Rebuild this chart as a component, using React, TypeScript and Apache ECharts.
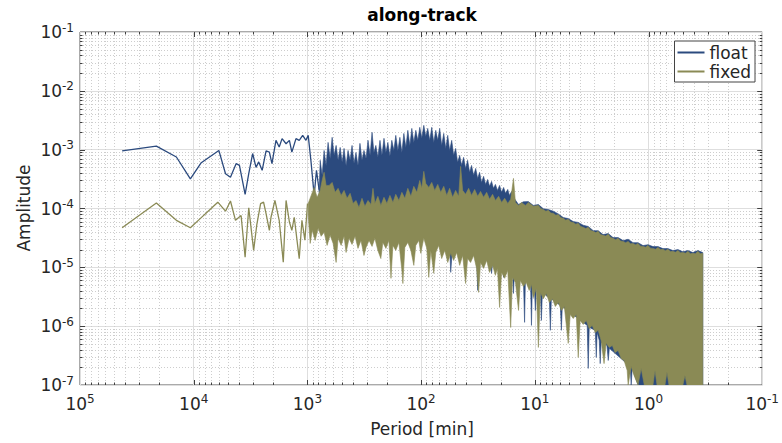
import React, { useEffect, useRef } from 'react';
import * as echarts from 'echarts';

const FLOAT_COLOR = '#2b4a7e';
const FIXED_COLOR = '#8a8a55';
const FONT = '"DejaVu Sans", "Liberation Sans", sans-serif';

// [period (min), amplitude] — sparse low-frequency part
const floatSparse: [number, number][] = [
  [42600, 9.5e-4], [21300, 1.15e-3], [14200, 7.5e-4], [10700, 3.2e-4], [8580, 6.0e-4], [6010, 9.7e-4],
  [5250, 3.9e-4], [4750, 3.4e-4], [4230, 5.8e-4], [3960, 5.4e-4], [3530, 1.74e-4], [3280, 3.9e-4],
  [3030, 8.6e-4], [2830, 5.0e-4], [2680, 6.2e-4], [2500, 4.45e-4], [2310, 9.5e-4], [2160, 9.1e-4],
  [2050, 5.8e-4], [1890, 1.44e-3], [1770, 1.11e-3], [1670, 1.54e-3], [1540, 1.26e-3], [1440, 1.44e-3],
  [1370, 9.1e-4], [1260, 1.54e-3], [1180, 1.44e-3], [1100, 1.75e-3], [1030, 1.44e-3], [984, 1.75e-3],
  [932, 6.6e-4], [872, 1.67e-4], [832, 4.45e-4], [788, 2.03e-4],
];

const fixedSparse: [number, number][] = [
  [42600, 4.7e-5], [21300, 1.24e-4], [14200, 6.3e-5], [10700, 4.7e-5], [8580, 7.0e-5], [7110, 9.8e-5],
  [6140, 1.28e-4], [5250, 9.0e-5], [4750, 1.34e-4], [4290, 6.3e-5], [3830, 7.6e-5], [3530, 1.49e-5],
  [3280, 1.03e-4], [2970, 1.94e-5], [2790, 5.2e-5], [2580, 1.21e-4], [2430, 1.28e-4], [2310, 8.2e-5],
  [2160, 4.25e-5], [2090, 7.1e-5], [1930, 1.37e-4], [1770, 6.3e-5], [1630, 1.22e-5], [1540, 1.37e-4],
  [1440, 5.9e-5], [1370, 4.25e-5], [1305, 7.1e-5], [1180, 1.4e-5], [1117, 6.3e-5], [1052, 2.9e-5],
  [998, 1.21e-4],
];

// dense high-frequency part: upper and lower edges of the band of spectral lines
const floatUpper: [number, number][] = [
  [788, 2.03e-4], [772, 6.6e-4], [742, 3.66e-4], [713, 9.7e-4], [685, 5.4e-4], [658, 1.33e-3], [631, 7.1e-4],
  [606, 1.62e-3], [582, 8.0e-4], [559, 1.18e-3], [537, 6.6e-4], [515, 1.09e-3], [495, 6.1e-4], [476, 1.05e-3],
  [457, 5.4e-4], [439, 9.7e-4], [421, 6.6e-4], [405, 1.18e-3], [389, 5.87e-4], [374, 8.97e-4], [359, 5.4e-4],
  [345, 1.28e-3], [331, 6.6e-4], [318, 9.7e-4], [305, 7.1e-4], [293, 1.44e-3], [281, 8.0e-4], [270, 1.97e-3],
  [260, 8.97e-4], [250, 1.18e-3], [240, 7.4e-4], [230, 1.44e-3], [221, 8.0e-4], [212, 1.56e-3], [204, 8.97e-4],
  [196, 1.33e-3], [188, 7.7e-4], [181, 1.44e-3], [173.5, 9.7e-4], [167, 1.75e-3], [160, 9.7e-4], [153.7, 1.62e-3],
  [147.6, 8.97e-4], [141.8, 1.89e-3], [136.2, 1.09e-3], [130.8, 2.13e-3], [125.6, 1.18e-3], [120.7, 2.3e-3],
  [115.9, 1.33e-3], [111.3, 2.13e-3], [106.9, 1.44e-3], [102.7, 2.4e-3], [98.6, 1.56e-3], [94.7, 2.59e-3],
  [91.0, 1.68e-3], [87.4, 2.3e-3], [83.9, 1.44e-3], [80.6, 2.4e-3], [77.4, 1.33e-3], [74.3, 2.13e-3],
  [71.4, 1.44e-3], [68.6, 2.3e-3], [65.9, 1.18e-3], [63.2, 1.89e-3], [60.7, 1.05e-3], [58.3, 1.75e-3],
  [56.1, 9.7e-4], [53.8, 1.44e-3], [51.7, 8.0e-4], [49.7, 1.05e-3], [47.7, 6.1e-4], [45.8, 8.0e-4],
  [44.0, 5.4e-4], [42.3, 7.4e-4], [40.6, 4.8e-4], [39.0, 6.6e-4], [37.4, 4.12e-4], [36.0, 5.4e-4],
  [34.5, 3.66e-4], [33.1, 4.8e-4], [31.8, 3.25e-4], [30.6, 4.12e-4], [29.4, 2.78e-4], [28.2, 3.52e-4],
  [27.1, 2.57e-4], [26.0, 3.12e-4], [25.0, 2.38e-4], [24.0, 2.89e-4], [23.1, 2.2e-4], [22.2, 2.57e-4],
  [21.3, 2.03e-4], [20.4, 2.47e-4], [19.6, 1.88e-4], [18.8, 2.28e-4], [18.1, 1.81e-4], [17.3, 2.11e-4],
  [16.7, 1.67e-4], [16.0, 1.95e-4], [15.4, 1.55e-4], [13.9, 1.17e-4], [12.6, 1.3e-4], [11.4, 1.31e-4],
  [10.3, 1.13e-4], [9.3, 1.17e-4], [8.41, 9.9e-5], [7.6, 9.6e-5], [6.87, 9.0e-5], [6.21, 8.1e-5],
  [5.61, 7.0e-5], [5.08, 6.75e-5], [4.59, 6.0e-5], [4.15, 5.8e-5], [3.75, 5.2e-5], [3.39, 4.95e-5],
  [3.06, 4.2e-5], [2.77, 4.2e-5], [2.51, 3.6e-5], [2.26, 3.75e-5], [2.05, 3.2e-5], [1.85, 3.2e-5],
  [1.67, 2.85e-5], [1.51, 3.0e-5], [1.37, 2.63e-5], [1.236, 2.63e-5], [1.117, 2.34e-5], [1.01, 2.43e-5],
  [0.913, 2.25e-5], [0.825, 2.25e-5], [0.746, 2.08e-5], [0.675, 2.08e-5], [0.61, 1.93e-5], [0.551, 2.0e-5],
  [0.498, 1.84e-5], [0.45, 1.93e-5], [0.407, 1.78e-5], [0.368, 1.93e-5], [0.333, 1.78e-5],
];

const floatLower: [number, number][] = [
  [788, 6.3e-5], [85.6, 5.8e-5], [56.1, 2.36e-5], [54.9, 8.2e-6], [52.8, 2.36e-5], [32.5, 1.59e-5],
  [31.8, 4.05e-6], [30.6, 1.59e-5], [24.5, 1.21e-5], [24.0, 7.9e-6], [23.5, 1.21e-5], [19.2, 1.08e-5],
  [18.8, 6.75e-6], [18.4, 1.04e-5], [15.7, 8.9e-6], [15.4, 3.6e-6], [15.1, 8.2e-6], [12.6, 6.5e-6],
  [12.3, 1.16e-6], [12.1, 6.0e-6], [10.9, 5.55e-6], [10.7, 1.03e-6], [10.5, 5.3e-6], [10.1, 4.9e-6],
  [9.89, 1.85e-6], [9.69, 4.6e-6], [8.93, 4.05e-6], [8.75, 1.25e-6], [8.58, 3.75e-6], [7.45, 3.05e-6],
  [7.3, 8.5e-7], [7.15, 2.93e-6], [5.96, 2.25e-6], [5.84, 8.5e-7], [5.73, 2.16e-6], [3.46, 1.03e-6],
  [3.39, 1.91e-7], [3.32, 9.5e-7], [2.94, 8.5e-7], [2.88, 2.94e-7], [2.83, 7.8e-7], [2.71, 5.7e-7],
  [2.66, 2.31e-7], [2.61, 5.3e-7], [2.32, 4.7e-7], [2.26, 2.61e-7], [2.21, 4.2e-7], [1.45, 2.06e-7],
  [1.42, 1e-7], [1.39, 1.91e-7], [1.236, 1e-7], [0.333, 1e-7],
];

const fixedUpper: [number, number][] = [
  [984, 1.22e-4], [926, 1.67e-4], [872, 2.28e-4], [821, 1.55e-4], [772, 2.03e-4], [742, 3.0e-4], [713, 4.12e-4],
  [685, 2.47e-4], [644, 2.47e-4], [606, 2.78e-4], [570, 1.88e-4], [537, 2.2e-4], [505, 1.67e-4], [476, 2.03e-4],
  [448, 1.49e-4], [421, 1.81e-4], [397, 1.22e-4], [374, 1.37e-4], [352, 1.04e-4], [331, 1.49e-4], [312, 1.09e-4],
  [293, 1.37e-4], [276, 1.17e-4], [265, 2.2e-4], [255, 1.22e-4], [240, 1.61e-4], [226, 1.13e-4], [212, 1.55e-4],
  [200, 1.22e-4], [188, 1.67e-4], [177, 1.27e-4], [167, 1.74e-4], [156.8, 1.37e-4], [147.6, 1.88e-4],
  [139, 1.49e-4], [130.8, 2.2e-4], [123, 1.61e-4], [115.9, 2.38e-4], [109, 1.88e-4], [102.7, 3.0e-4],
  [98.6, 2.2e-4], [94.7, 4.28e-4], [91.0, 2.67e-4], [85.6, 2.28e-4], [80.6, 2.78e-4], [75.9, 2.03e-4],
  [71.4, 2.57e-4], [67.2, 1.88e-4], [63.2, 2.38e-4], [59.5, 1.67e-4], [56.1, 2.2e-4], [52.8, 1.55e-4],
  [49.7, 2.03e-4], [46.7, 1.61e-4], [44.9, 5.2e-4], [43.1, 2.03e-4], [40.6, 1.74e-4], [38.2, 2.2e-4],
  [36.0, 1.67e-4], [33.8, 2.11e-4], [31.8, 1.61e-4], [30.0, 1.95e-4], [28.2, 1.55e-4], [26.5, 1.88e-4],
  [25.0, 1.43e-4], [23.5, 1.74e-4], [22.2, 1.37e-4], [20.8, 1.61e-4], [19.6, 1.27e-4], [18.4, 1.49e-4],
  [17.3, 1.22e-4], [16.3, 1.43e-4], [15.4, 3.25e-4], [14.8, 1.27e-4], [13.9, 1.13e-4], [13.1, 1.27e-4],
  [12.1, 1.13e-4], [11.4, 1.27e-4], [10.3, 1.09e-4], [9.3, 1.13e-4], [8.84, 9.95e-5], [8.41, 9.65e-5],
  [7.99, 9.0e-5], [7.6, 9.3e-5], [7.23, 8.36e-5], [6.87, 8.3e-5], [6.53, 7.7e-5], [6.21, 7.9e-5],
  [5.9, 6.98e-5], [5.61, 6.8e-5], [5.34, 6.34e-5], [5.08, 6.55e-5], [4.83, 5.87e-5], [4.59, 5.8e-5],
  [4.36, 5.42e-5], [4.15, 5.6e-5], [3.94, 4.94e-5], [3.75, 4.8e-5], [3.57, 4.56e-5], [3.39, 4.8e-5],
  [3.22, 4.22e-5], [3.06, 4.09e-5], [2.91, 3.89e-5], [2.77, 4.09e-5], [2.64, 3.61e-5], [2.51, 3.5e-5],
  [2.38, 3.4e-5], [2.26, 3.65e-5], [2.15, 3.21e-5], [2.05, 3.11e-5], [1.95, 2.95e-5], [1.85, 3.11e-5],
  [1.76, 2.79e-5], [1.67, 2.76e-5], [1.59, 2.62e-5], [1.51, 2.76e-5], [1.44, 2.52e-5], [1.37, 2.55e-5],
  [1.3, 2.42e-5], [1.236, 2.55e-5], [1.175, 2.29e-5], [1.117, 2.27e-5], [1.062, 2.2e-5], [1.01, 2.36e-5],
  [0.96, 2.12e-5], [0.913, 2.1e-5], [0.868, 2.03e-5], [0.825, 2.18e-5], [0.785, 2.0e-5], [0.746, 2.02e-5],
  [0.71, 1.92e-5], [0.675, 2.02e-5], [0.642, 1.85e-5], [0.61, 1.87e-5], [0.58, 1.81e-5], [0.551, 1.94e-5],
  [0.524, 1.77e-5], [0.498, 1.79e-5], [0.473, 1.74e-5], [0.45, 1.87e-5], [0.428, 1.71e-5], [0.407, 1.73e-5],
  [0.387, 1.71e-5], [0.368, 1.87e-5], [0.35, 1.71e-5], [0.333, 1.73e-5],
];

const fixedLower: [number, number][] = [
  [984, 7.6e-5], [945, 2.55e-5], [907, 4.25e-5], [855, 2.87e-5], [804, 4.6e-5], [757, 3.37e-5], [713, 3.93e-5],
  [671, 2.36e-5], [631, 3.5e-5], [594, 2.55e-5], [559, 1.21e-5], [537, 3.11e-5], [505, 2.36e-5], [476, 3.37e-5],
  [457, 1.79e-5], [430, 3.11e-5], [405, 2.45e-5], [381, 3.37e-5], [359, 2.1e-5], [338, 2.87e-5], [318, 1.59e-5],
  [305, 2.18e-5], [287, 2.87e-5], [270, 2.27e-5], [255, 3.11e-5], [240, 1.94e-5], [226, 1.41e-5], [217, 2.65e-5],
  [204, 2.1e-5], [192, 2.87e-5], [184, 6.5e-6], [177, 2.36e-5], [167, 1.94e-5], [156.8, 2.65e-5],
  [147.6, 8.9e-6], [144.6, 5.3e-6], [139, 2.18e-5], [130.8, 2.65e-5], [123, 1.94e-5], [115.9, 1.08e-5],
  [111.3, 2.36e-5], [104.8, 2.87e-5], [100.7, 1.73e-5], [94.7, 3.11e-5], [89.1, 2.1e-5], [85.6, 6.75e-6],
  [82.2, 1.94e-5], [77.4, 7.9e-6], [74.3, 1.79e-5], [70.0, 2.36e-5], [65.9, 1.41e-5], [61.9, 1.94e-5],
  [58.3, 1.21e-5], [54.9, 1.73e-5], [51.7, 1.31e-5], [48.7, 1.79e-5], [45.8, 1.08e-5], [43.1, 1.59e-5],
  [40.6, 5.3e-6], [39.0, 1.41e-5], [36.7, 1.21e-5], [34.5, 1.59e-5], [32.5, 9.6e-6], [31.2, 3.75e-6],
  [30.0, 1.21e-5], [28.2, 9.6e-6], [26.5, 1.31e-5], [25.0, 8.2e-6], [23.5, 1.08e-5], [22.2, 7.3e-6],
  [21.3, 9.6e-6], [20.4, 2.08e-6], [19.6, 8.2e-6], [18.4, 6.5e-6], [17.3, 8.9e-6], [16.3, 9.5e-7],
  [15.7, 6.75e-6], [14.8, 5.55e-6], [13.9, 1.85e-6], [13.4, 6.0e-6], [12.6, 4.7e-6], [11.9, 5.55e-6],
  [11.2, 4.05e-6], [10.7, 5.1e-6], [10.3, 3.05e-6], [9.69, 4.4e-6], [9.3, 4.35e-7], [8.93, 3.75e-6],
  [8.41, 2.93e-6], [7.92, 3.6e-6], [7.45, 2.53e-6], [7.01, 2.93e-6], [6.6, 2.16e-6], [6.21, 2.53e-6],
  [5.84, 1.85e-6], [5.5, 2.16e-6], [5.08, 5.1e-7], [4.88, 1.58e-6], [4.59, 1.35e-6], [4.32, 1.58e-6],
  [4.15, 2.94e-7], [3.99, 1.25e-6], [3.75, 1.07e-6], [3.53, 1.25e-6], [3.32, 9.1e-7], [3.13, 1.03e-6],
  [2.94, 7.8e-7], [2.77, 8.5e-7], [2.61, 5.7e-7], [2.46, 2.31e-7], [2.36, 5.1e-7], [2.21, 4.35e-7],
  [2.08, 4.7e-7], [1.97, 3.57e-7], [1.85, 3.86e-7], [1.74, 2.83e-7], [1.64, 2.61e-7], [1.54, 1.77e-7],
  [1.51, 1e-7], [1.42, 2.06e-7], [1.34, 1.45e-7], [1.236, 1e-7], [1.16, 1.91e-7], [1.09, 1e-7],
  [0.913, 1e-7], [0.877, 1.77e-7], [0.842, 1e-7], [0.716, 1e-7], [0.688, 1.64e-7], [0.661, 1e-7],
  [0.498, 1e-7], [0.478, 1.45e-7], [0.459, 1e-7], [0.333, 1e-7],
];

const X_MIN = 0.1;
const X_MAX = 1e5;
const Y_MIN = 1e-7;
const Y_MAX = 0.1;
const MINOR_MULTIPLES = [2, 3, 4, 5, 6, 7, 8, 9];
const X_DECADES = [-1, 0, 1, 2, 3, 4];
const Y_DECADES = [-7, -6, -5, -4, -3, -2];

function supLabel(v: number) {
  const e = Math.round(Math.log10(v));
  return `{b|10}{e|${e}}`;
}

const labelRich = {
  b: { fontFamily: FONT, fontSize: 17, color: '#262626', lineHeight: 21 },
  e: { fontFamily: FONT, fontSize: 12, color: '#262626', lineHeight: 12, verticalAlign: 'top' },
};

export default function App() {
  const ref = useRef<HTMLDivElement>(null);
  useEffect(() => {
    document.body.style.margin = '0';
    const chart = echarts.init(ref.current as HTMLDivElement, null, { renderer: 'svg' });

    const xMinor: number[] = [];
    X_DECADES.forEach((k) => MINOR_MULTIPLES.forEach((m) => xMinor.push(m * Math.pow(10, k))));
    const yMinor: number[] = [];
    Y_DECADES.forEach((k) => MINOR_MULTIPLES.forEach((m) => yMinor.push(m * Math.pow(10, k))));
    const xMajorInner = [1, 10, 100, 1000, 10000];
    const yMajorInner = [1e-6, 1e-5, 1e-4, 1e-3, 1e-2];

    const gridSeries = {
      type: 'custom',
      name: '_grid',
      silent: true,
      z: 1,
      data: [[1, 1e-4]],
      renderItem: (params: any, api: any) => {
        const cs = params.coordSys;
        const L = cs.x, T = cs.y, R = cs.x + cs.width, B = cs.y + cs.height;
        const children: any[] = [];
        const dot = { stroke: '#cdcdcd', lineWidth: 1, lineDash: [1, 2], fill: null };
        const tick = { stroke: '#404040', lineWidth: 1, fill: null };
        xMinor.forEach((v) => {
          const px = Math.round(api.coord([v, 1e-4])[0]) + 0.5;
          children.push({ type: 'line', shape: { x1: px, y1: T, x2: px, y2: B }, style: dot });
          children.push({ type: 'line', shape: { x1: px, y1: B, x2: px, y2: B - 2.5 }, style: tick });
          children.push({ type: 'line', shape: { x1: px, y1: T, x2: px, y2: T + 2.5 }, style: tick });
        });
        yMinor.forEach((v) => {
          const py = Math.round(api.coord([1, v])[1]) + 0.5;
          children.push({ type: 'line', shape: { x1: L, y1: py, x2: R, y2: py }, style: dot });
          children.push({ type: 'line', shape: { x1: L, y1: py, x2: L + 2.5, y2: py }, style: tick });
          children.push({ type: 'line', shape: { x1: R, y1: py, x2: R - 2.5, y2: py }, style: tick });
        });
        xMajorInner.forEach((v) => {
          const px = Math.round(api.coord([v, 1e-4])[0]) + 0.5;
          children.push({ type: 'line', shape: { x1: px, y1: B, x2: px, y2: B - 5 }, style: tick });
          children.push({ type: 'line', shape: { x1: px, y1: T, x2: px, y2: T + 5 }, style: tick });
        });
        yMajorInner.forEach((v) => {
          const py = Math.round(api.coord([1, v])[1]) + 0.5;
          children.push({ type: 'line', shape: { x1: L, y1: py, x2: L + 5, y2: py }, style: tick });
          children.push({ type: 'line', shape: { x1: R, y1: py, x2: R - 5, y2: py }, style: tick });
        });
        return { type: 'group', children };
      },
    };

    const band = (name: string, color: string, upper: [number, number][], lower: [number, number][], z: number) => ({
      type: 'custom',
      name,
      z,
      silent: true,
      clip: true,
      color,
      itemStyle: { color },
      data: [[1, 1e-4]],
      renderItem: (params: any, api: any) => {
        const pts = upper.map((d) => api.coord(d)).concat(lower.slice().reverse().map((d) => api.coord(d)));
        return {
          type: 'polygon',
          shape: { points: pts },
          style: { fill: color, stroke: color, lineWidth: 0.6 },
        };
      },
    });

    const line = (name: string, color: string, data: [number, number][], z: number) => ({
      type: 'line',
      name,
      z,
      data,
      color,
      showSymbol: false,
      symbol: 'none',
      lineStyle: { color, width: 1.3 },
      itemStyle: { color },
      silent: true,
    });

    const option: any = {
      animation: false,
      backgroundColor: '#ffffff',
      grid: {
        left: 80, top: 32, right: 18, bottom: 58,
        show: true, borderColor: '#555555', borderWidth: 1, backgroundColor: 'transparent',
      },
      xAxis: {
        type: 'log', logBase: 10, min: X_MIN, max: X_MAX, inverse: true, splitNumber: 6,
        axisLine: { show: false }, axisTick: { show: false },
        splitLine: { show: true, lineStyle: { color: '#dedede', width: 1 } },
        axisLabel: { formatter: supLabel, rich: labelRich, margin: 8, showMinLabel: true, showMaxLabel: true },
      },
      yAxis: {
        type: 'log', logBase: 10, min: Y_MIN, max: Y_MAX, splitNumber: 6,
        axisLine: { show: false }, axisTick: { show: false },
        splitLine: { show: true, lineStyle: { color: '#dedede', width: 1 } },
        axisLabel: { formatter: supLabel, rich: labelRich, margin: 6, showMinLabel: true, showMaxLabel: true },
      },
      legend: {
        data: ['float', 'fixed'],
        orient: 'vertical', right: 27, top: 41,
        padding: [3, 4, 2, 3], itemGap: 2, itemWidth: 27, itemHeight: 2, icon: 'rect',
        backgroundColor: '#ffffff', borderColor: '#444444', borderWidth: 1, borderRadius: 0,
        textStyle: { fontFamily: FONT, fontSize: 17, color: '#262626', lineHeight: 17 },
      },
      graphic: [
        { type: 'text', x: 422, y: 15, style: { text: 'along-track', fontFamily: FONT, fontSize: 17, fontWeight: 'bold', fill: '#000000', align: 'center', verticalAlign: 'middle' } },
        { type: 'text', x: 422, y: 429, style: { text: 'Period [min]', fontFamily: FONT, fontSize: 17, fill: '#262626', align: 'center', verticalAlign: 'middle' } },
        { type: 'text', x: 24, y: 208, rotation: Math.PI / 2, style: { text: 'Amplitude', fontFamily: FONT, fontSize: 17, fill: '#262626', align: 'center', verticalAlign: 'middle' } },
      ],
      series: [
        gridSeries,
        line('float', FLOAT_COLOR, floatSparse, 3),
        band('float', FLOAT_COLOR, floatUpper, floatLower, 3),
        line('fixed', FIXED_COLOR, fixedSparse, 4),
        band('fixed', FIXED_COLOR, fixedUpper, fixedLower, 4),
      ],
    };
    chart.setOption(option);
    return () => chart.dispose();
  }, []);
  return <div ref={ref} style={{ width: 782, height: 443 }} />;
}
